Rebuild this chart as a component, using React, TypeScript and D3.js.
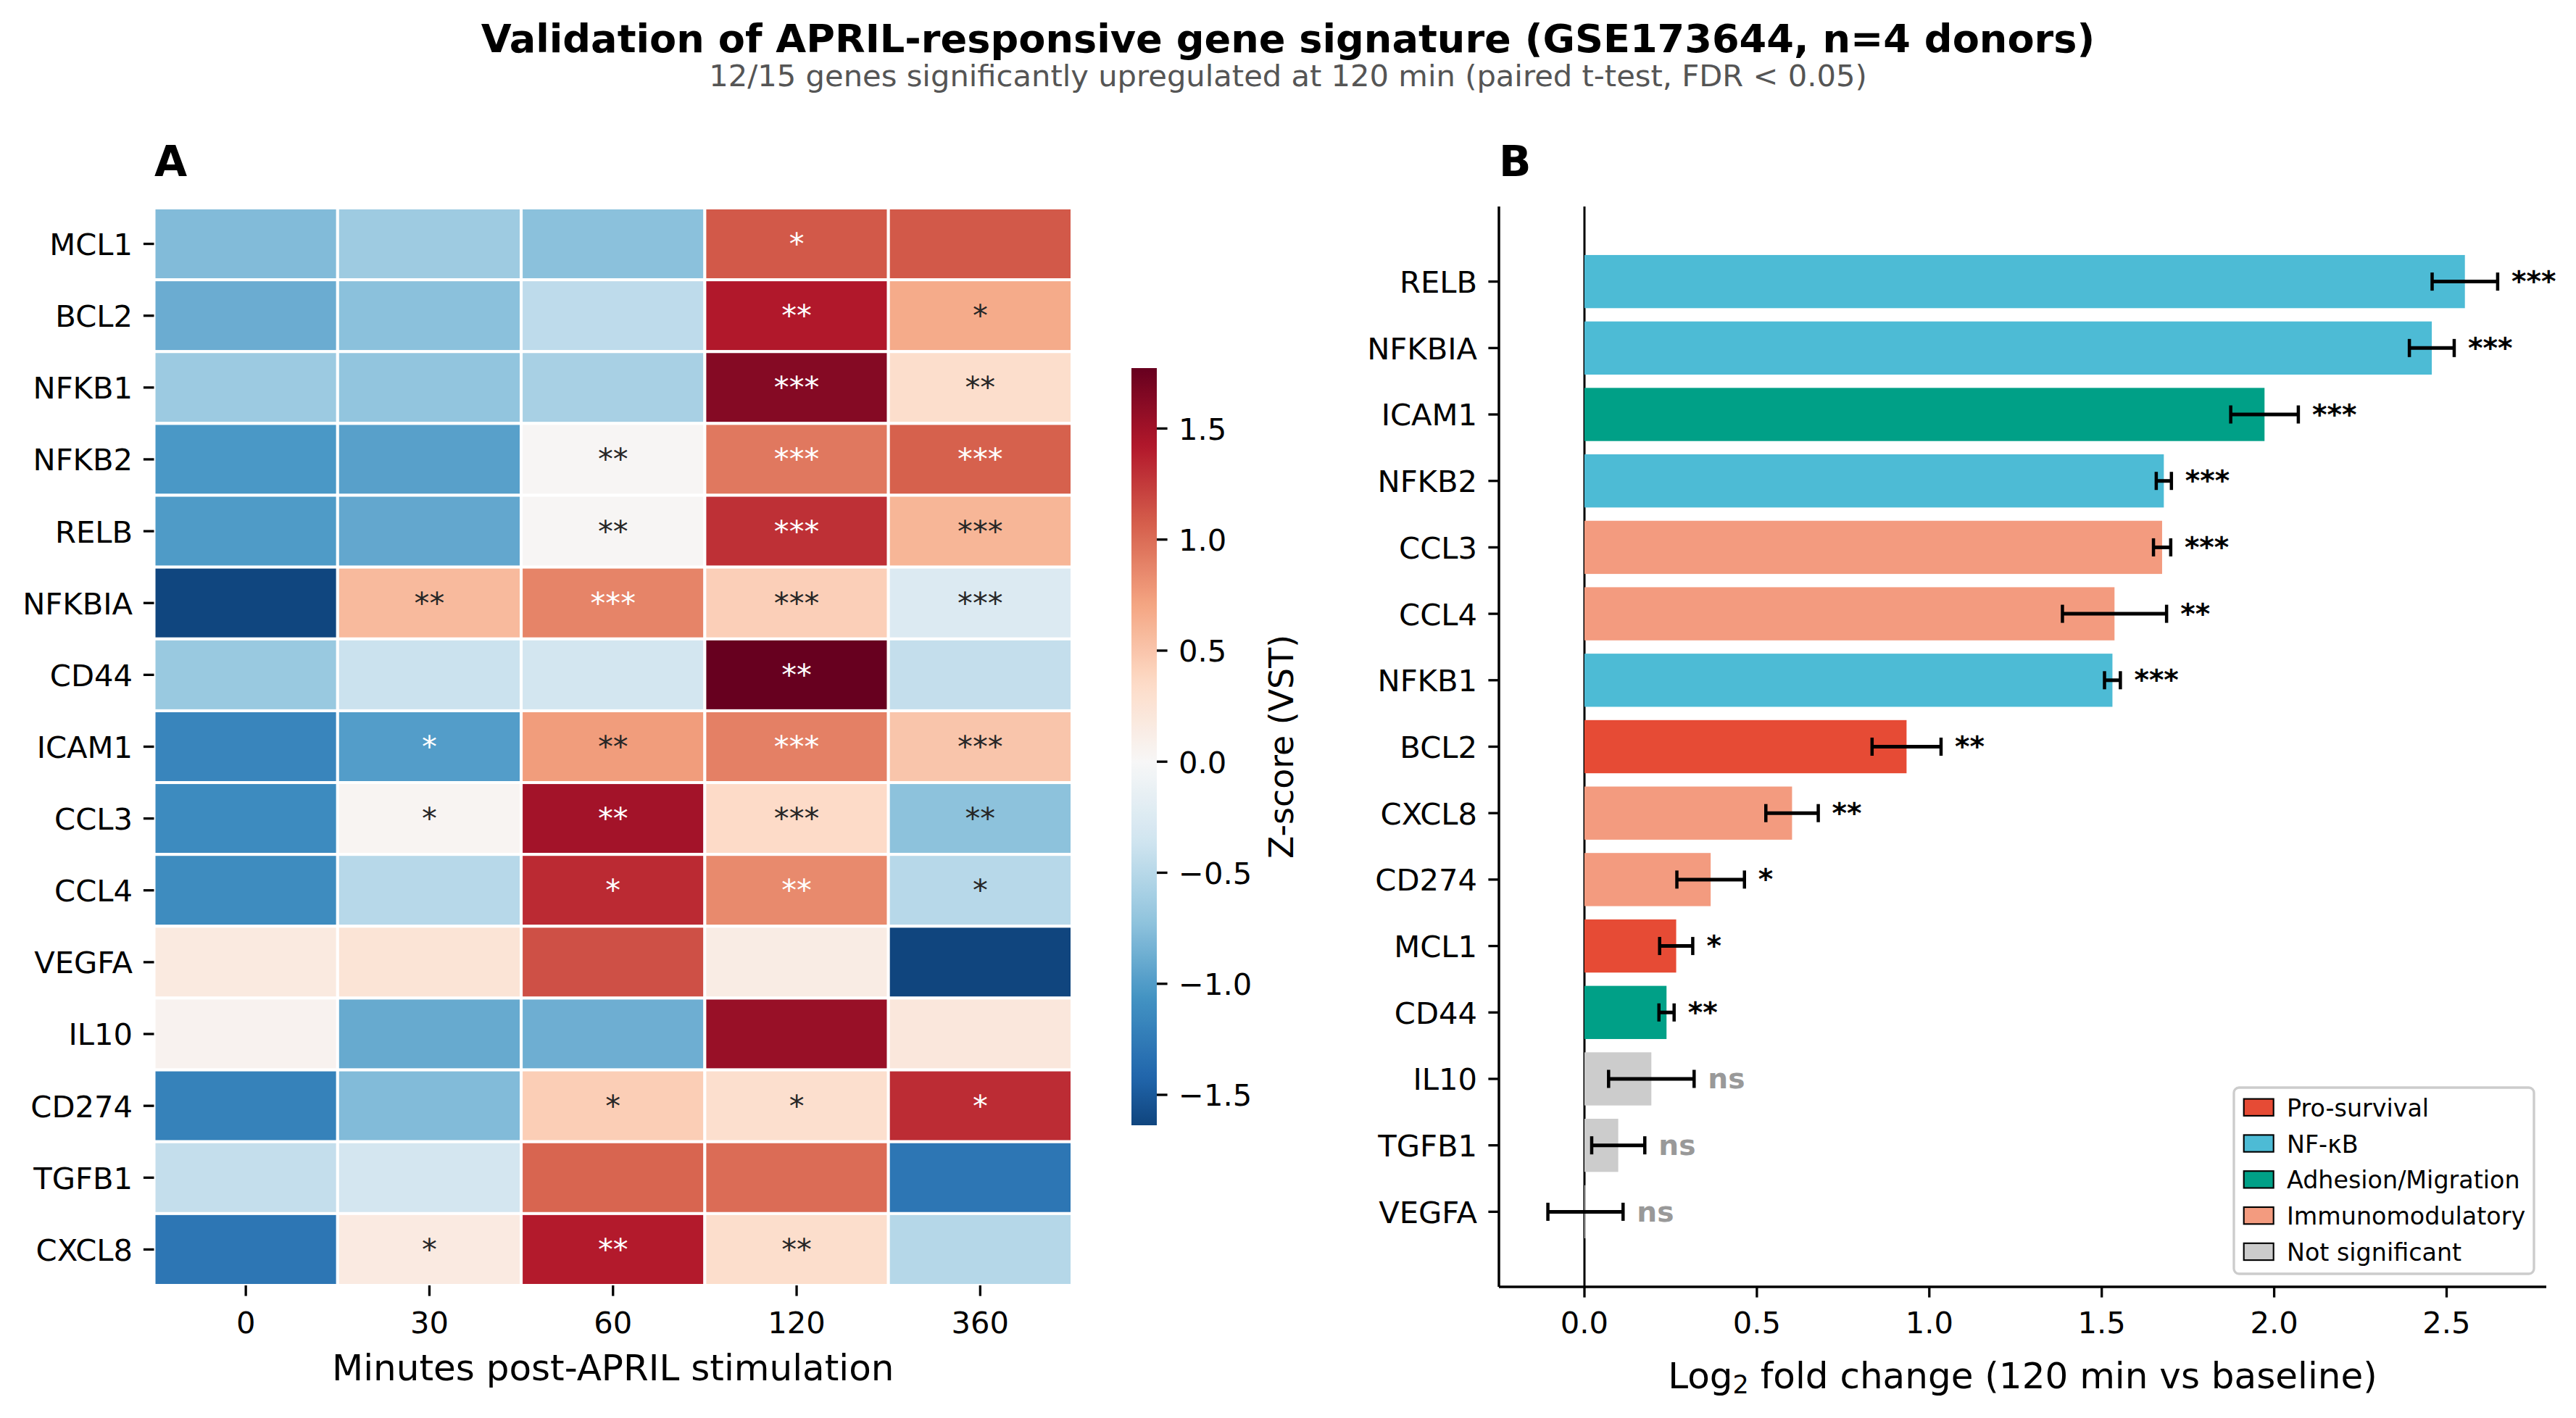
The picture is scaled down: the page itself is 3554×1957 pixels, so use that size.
import React from "react";
import * as d3 from "d3";

// ---------------- Data ----------------
const timepoints = ["0", "30", "60", "120", "360"];
const heatGenes = ["MCL1", "BCL2", "NFKB1", "NFKB2", "RELB", "NFKBIA", "CD44", "ICAM1", "CCL3", "CCL4", "VEGFA", "IL10", "CD274", "TGFB1", "CXCL8"];
// Z-scores (VST) per time point, in heatGenes order
const z0 = [-0.78, -0.885, -0.655, -1.03, -1.01, -1.63, -0.67, -1.17, -1.13, -1.12, 0.17, 0.06, -1.2, -0.43, -1.29];
const z30 = [-0.64, -0.74, -0.708, -0.97, -0.92, 0.57, -0.39, -0.99, 0.04, -0.5, 0.24, -0.9, -0.78, -0.33, 0.16];
const z60 = [-0.74, -0.46, -0.584, 0.02, 0.02, 0.88, -0.34, 0.75, 1.49, 1.33, 1.14, -0.87, 0.44, 1.04, 1.41];
const z120 = [1.1, 1.42, 1.63, 0.94, 1.3, 0.43, 1.772, 0.9, 0.35, 0.85, 0.14, 1.54, 0.3, 1.0, 0.32];
const z360 = [1.1, 0.67, 0.32, 1.06, 0.6, -0.25, -0.43, 0.5, -0.73, -0.5, -1.637, 0.2, 1.32, -1.29, -0.51];
// significance stars per time point
const sig0 = ["", "", "", "", "", "", "", "", "", "", "", "", "", "", ""];
const sig30 = ["", "", "", "", "", "**", "", "*", "*", "", "", "", "", "", "*"];
const sig60 = ["", "", "", "**", "**", "***", "", "**", "**", "*", "", "", "*", "", "**"];
const sig120 = ["*", "**", "***", "***", "***", "***", "**", "***", "***", "**", "", "", "*", "", "**"];
const sig360 = ["", "*", "**", "***", "***", "***", "", "***", "**", "*", "", "", "*", "", ""];
const cbarTicks = [-1.5, -1.0, -0.5, 0.0, 0.5, 1.0, 1.5];

// Panel B
const fcGenes = ["RELB", "NFKBIA", "ICAM1", "NFKB2", "CCL3", "CCL4", "NFKB1", "BCL2", "CXCL8", "CD274", "MCL1", "CD44", "IL10", "TGFB1", "VEGFA"];
const fcValues = [2.553, 2.457, 1.972, 1.68, 1.675, 1.537, 1.531, 0.934, 0.602, 0.366, 0.266, 0.238, 0.194, 0.098, 0.003];
const fcErrors = [0.095, 0.065, 0.098, 0.022, 0.025, 0.151, 0.023, 0.1, 0.076, 0.098, 0.048, 0.022, 0.124, 0.077, 0.109];
const fcSig = ["***", "***", "***", "***", "***", "**", "***", "**", "**", "*", "*", "**", "ns", "ns", "ns"];
const fcCategory = ["NF-κB", "NF-κB", "Adhesion/Migration", "NF-κB", "Immunomodulatory", "Immunomodulatory", "NF-κB", "Pro-survival", "Immunomodulatory", "Immunomodulatory", "Pro-survival", "Adhesion/Migration", "Not significant", "Not significant", "Not significant"];
const categoryNames = ["Pro-survival", "NF-κB", "Adhesion/Migration", "Immunomodulatory", "Not significant"];
const categoryColors = ["#E64B35", "#4DBBD5", "#00A087", "#F39B7F", "#CCCCCC"];
const fcTicks = [0.0, 0.5, 1.0, 1.5, 2.0, 2.5];

// ---------------- Helpers ----------------
const rdbuR = ["#053061", "#2166ac", "#4393c3", "#92c5de", "#d1e5f0", "#f7f7f7", "#fddbc7", "#f4a582", "#d6604d", "#b2182b", "#67001f"];
const cmapBase = d3
  .scaleLinear<string>()
  .domain(d3.range(11).map((i) => i / 10))
  .range(rdbuR)
  .interpolate(d3.interpolateRgb)
  .clamp(true);

function relLum(c: string) {
  const r = d3.rgb(c);
  const f = (v: number) => {
    v = v / 255;
    return v <= 0.03928 ? v / 12.92 : Math.pow((v + 0.055) / 1.055, 2.4);
  };
  return 0.2126 * f(r.r) + 0.7152 * f(r.g) + 0.0722 * f(r.b);
}

const FONT = "DejaVu Sans";
const PT = 300 / 72;

export default function App() {
  const W = 3554;
  const H = 1957;

  // ---- heatmap ----
  const zCols = [z0, z30, z60, z120, z360];
  const sigCols = [sig0, sig30, sig60, sig120, sig360];
  const allZ = zCols.flat();
  const vmin = d3.min(allZ) as number;
  const vmax = d3.max(allZ) as number;
  const vrange = Math.max(vmax, -vmin);
  const color = (z: number) => cmapBase((z + vrange) / (2 * vrange));

  const hx = d3.scaleBand<string>().domain(timepoints).range([212.5, 1479]);
  const hy = d3.scaleBand<string>().domain(heatGenes).range([287, 1774]);

  const cbX0 = 1561;
  const cbX1 = 1596;
  const cy = d3.scaleLinear().domain([vmin, vmax]).range([1553, 508]);
  const fmt1 = d3.format(".1f");
  const gradStops = d3.range(0, 101).map((i) => {
    const z = vmin + ((vmax - vmin) * i) / 100;
    return { off: i / 100, c: color(z) };
  });

  // ---- bar chart ----
  const bx = d3.scaleLinear().domain([-0.248, 2.789]).range([2068, 3513]);
  const by = d3.scaleLinear().domain([-1.13, fcGenes.length - 1 + 1.13]).range([285, 1776]);
  const unit = by(1) - by(0);
  const barH = 0.8 * unit;
  const catColor = (c: string) => categoryColors[categoryNames.indexOf(c)];

  const tickFs = 10 * PT;
  const labFs = 12 * PT;
  const legFs = 8 * PT;

  return (
    <svg
      width={W}
      height={H}
      viewBox={`0 0 ${W} ${H}`}
      style={{ position: "absolute", left: 0, top: 0, background: "#fff" }}
      fontFamily={FONT}
    >
      <rect x={0} y={0} width={W} height={H} fill="#fff" />
      {/* Titles */}
      <text x={1777} y={72} textAnchor="middle" fontSize={13 * PT} fontWeight="bold" fill="#000">
        Validation of APRIL-responsive gene signature (GSE173644, n=4 donors)
      </text>
      <text x={1777} y={119} textAnchor="middle" fontSize={tickFs} fill="#555555">
        12/15 genes significantly upregulated at 120 min (paired t-test, FDR &lt; 0.05)
      </text>
      <text x={213} y={243} fontSize={14 * PT} fontWeight="bold">A</text>
      <text x={2068} y={243} fontSize={14 * PT} fontWeight="bold">B</text>

      {/* Heatmap cells */}
      <g>
        {heatGenes.map((g, gi) =>
          timepoints.map((t, ti) => {
            const z = zCols[ti][gi];
            const c = color(z);
            return (
              <rect
                key={g + t}
                x={hx(t)}
                y={hy(g)}
                width={hx.bandwidth()}
                height={hy.bandwidth()}
                fill={c}
                stroke="#fff"
                strokeWidth={4}
              />
            );
          })
        )}
        {heatGenes.map((g, gi) =>
          timepoints.map((t, ti) => {
            const s = sigCols[ti][gi];
            if (!s) return null;
            const c = color(zCols[ti][gi]);
            return (
              <text
                key={"s" + g + t}
                x={(hx(t) as number) + hx.bandwidth() / 2}
                y={(hy(g) as number) + hy.bandwidth() / 2}
                textAnchor="middle"
                dominantBaseline="central"
                fontSize={tickFs}
                fill={relLum(c) > 0.408 ? "#262626" : "#ffffff"}
              >
                {s}
              </text>
            );
          })
        )}
      </g>
      {/* Heatmap axes */}
      <g>
        {heatGenes.map((g) => {
          const yc = (hy(g) as number) + hy.bandwidth() / 2;
          return (
            <g key={"hy" + g}>
              <line x1={197.9} x2={212.5} y1={yc} y2={yc} stroke="#000" strokeWidth={3.3} />
              <text x={183} y={yc} dy="0.37em" textAnchor="end" fontSize={tickFs}>
                {g}
              </text>
            </g>
          );
        })}
        {timepoints.map((t) => {
          const xc = (hx(t) as number) + hx.bandwidth() / 2;
          return (
            <g key={"hx" + t}>
              <line x1={xc} x2={xc} y1={1774} y2={1788.6} stroke="#000" strokeWidth={3.3} />
              <text x={xc} y={1840} textAnchor="middle" fontSize={tickFs}>
                {t}
              </text>
            </g>
          );
        })}
        <text x={(212.5 + 1479) / 2} y={1905} textAnchor="middle" fontSize={labFs}>
          Minutes post-APRIL stimulation
        </text>
      </g>

      {/* Colorbar */}
      <defs>
        <linearGradient id="cbgrad" x1="0" y1="1" x2="0" y2="0">
          {gradStops.map((s, i) => (
            <stop key={i} offset={s.off} stopColor={s.c} />
          ))}
        </linearGradient>
      </defs>
      <rect x={cbX0} y={cy(vmax)} width={cbX1 - cbX0} height={cy(vmin) - cy(vmax)} fill="url(#cbgrad)" />
      {cbarTicks.map((v) => (
        <g key={"cb" + v}>
          <line x1={cbX1} x2={cbX1 + 14.6} y1={cy(v)} y2={cy(v)} stroke="#000" strokeWidth={3.3} />
          <text x={cbX1 + 30} y={cy(v)} dy="0.37em" fontSize={tickFs}>
            {fmt1(v)}
          </text>
        </g>
      ))}
      <text
        transform={`translate(1784, ${(cy(vmin) + cy(vmax)) / 2}) rotate(-90)`}
        textAnchor="middle"
        fontSize={11 * PT}
      >
        Z-score (VST)
      </text>

      {/* Panel B */}
      <line x1={bx(0)} x2={bx(0)} y1={285} y2={1776} stroke="#000" strokeWidth={3} />
      {fcGenes.map((g, i) => {
        const v = fcValues[i];
        const x0 = bx(Math.min(0, v));
        const x1 = bx(Math.max(0, v));
        return (
          <rect
            key={"bar" + g}
            x={x0}
            y={by(i) - barH / 2}
            width={Math.max(x1 - x0, 1)}
            height={barH}
            fill={catColor(fcCategory[i])}
          />
        );
      })}
      {fcGenes.map((g, i) => {
        const v = fcValues[i];
        const e = fcErrors[i];
        const yc = by(i);
        const xl = bx(v - e);
        const xr = bx(v + e);
        const sig = fcSig[i];
        return (
          <g key={"err" + g}>
            <line x1={xl} x2={xr} y1={yc} y2={yc} stroke="#000" strokeWidth={5} />
            <line x1={xl} x2={xl} y1={yc - 12.5} y2={yc + 12.5} stroke="#000" strokeWidth={4.5} />
            <line x1={xr} x2={xr} y1={yc - 12.5} y2={yc + 12.5} stroke="#000" strokeWidth={4.5} />
            <text
              x={bx(v + e + 0.04)}
              y={yc}
              dominantBaseline="central"
              fontSize={9.4 * PT}
              fontWeight="bold"
              fill={sig === "ns" ? "#999999" : "#000"}
            >
              {sig}
            </text>
          </g>
        );
      })}
      {/* B axes */}
      <line x1={2068} x2={2068} y1={285} y2={1776} stroke="#000" strokeWidth={3.5} />
      <line x1={2068} x2={3513} y1={1776} y2={1776} stroke="#000" strokeWidth={3.5} />
      {fcGenes.map((g, i) => (
        <g key={"byt" + g}>
          <line x1={2053.4} x2={2068} y1={by(i)} y2={by(i)} stroke="#000" strokeWidth={3.3} />
          <text x={2038} y={by(i)} dy="0.37em" textAnchor="end" fontSize={tickFs}>
            {g}
          </text>
        </g>
      ))}
      {fcTicks.map((t) => (
        <g key={"bxt" + t}>
          <line x1={bx(t)} x2={bx(t)} y1={1776} y2={1790.6} stroke="#000" strokeWidth={3.3} />
          <text x={bx(t)} y={1840} textAnchor="middle" fontSize={tickFs}>
            {fmt1(t)}
          </text>
        </g>
      ))}
      <text x={(2068 + 3513) / 2} y={1916} textAnchor="middle" fontSize={labFs}>
        Log
        <tspan dy={7} fontSize={labFs * 0.7}>2</tspan>
        <tspan dy={-7}> fold change (120 min vs baseline)</tspan>
      </text>

      {/* Legend */}
      <g>
        <rect x={3082} y={1501} width={414} height={257} rx={7} ry={7} fill="#fff" fillOpacity={0.8} stroke="#cccccc" strokeWidth={3.3} />
        {categoryNames.map((c, i) => {
          const yc = 1528.3 + i * 49.8;
          return (
            <g key={"lg" + c}>
              <rect x={3095.7} y={yc - 11.7} width={41} height={23.3} fill={categoryColors[i]} stroke="#000" strokeWidth={2.1} />
              <text x={3155} y={yc + 12.5} fontSize={legFs}>
                {c}
              </text>
            </g>
          );
        })}
      </g>
    </svg>
  );
}
